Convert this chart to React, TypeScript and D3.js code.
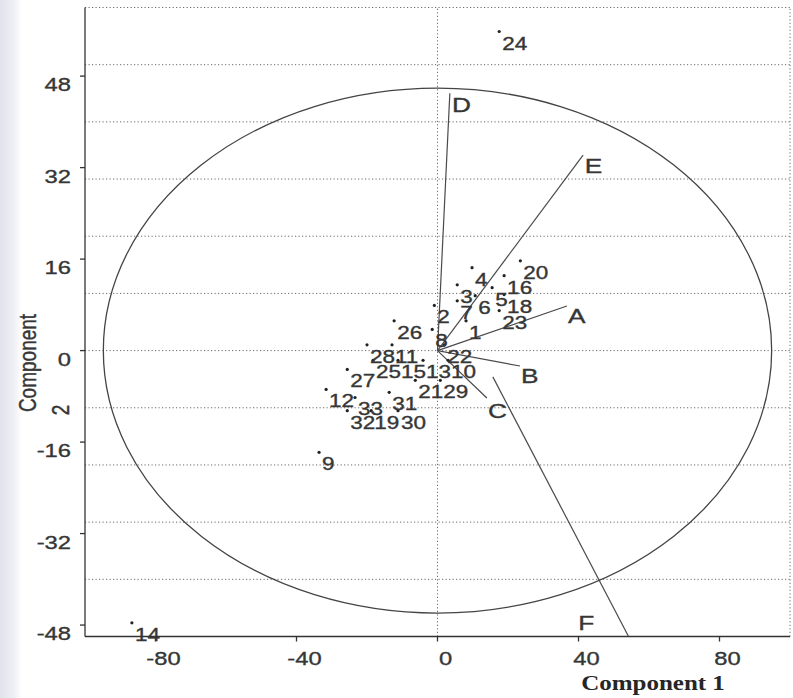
import React, { useEffect, useRef } from "react";
import * as d3 from "d3";

// scores of the observations (component 1, component 2)
const pointLabels = ["1", "2", "3", "4", "5", "6", "7", "8", "9", "10", "11", "12", "13", "14", "15", "16",
  "18", "19", "20", "21", "22", "23", "24", "25", "26", "27", "28", "29", "30", "31", "32", "33"];
const pointX = [8.1, -0.9, 5.6, 9.8, 15.5, 10.7, 5.6, -1.5, -33.6, 3.0, -12.9, -31.6, -4.1, -86.7, -11.2, 18.9,
  18.9, -18.8, 23.5, -6.3, 1.9, 17.5, 17.5, -18.3, -12.3, -25.6, -20.0, 0.8, -11.2, -13.7, -25.6, -23.4];
const pointY = [5.2, 7.9, 11.5, 14.5, 11.0, 9.6, 8.7, 3.7, -17.8, -1.7, 1.0, -6.8, -1.7, -47.6, -1.7, 13.1,
  9.8, -10.5, 15.7, -5.2, 1.0, 7.0, 55.8, -1.7, 5.2, -3.3, 1.0, -5.2, -10.5, -7.3, -10.5, -8.2];

// loadings (variables), drawn as segments
const vectorNames = ["A", "B", "C", "D", "E", "F"];
const vectorX0 = [0, 0, 0, 0, 0, 15.7];
const vectorY0 = [0, 0, 0, 0, 0, -4.6];
const vectorX1 = [36.7, 23.4, 14.0, 3.5, 41.3, 54.2];
const vectorY1 = [7.8, -2.7, -8.3, 45.0, 34.2, -50];
const vectorLabelX = [37.0, 23.7, 14.3, 4.1, 41.8, 39.9];
const vectorLabelY = [4.8, -5.7, -11.8, 41.7, 31.0, -48.9];

// axes
const xDomain = [-100, 100];
const yDomain = [-50, 60];
const xTicks = [-80, -40, 0, 40, 80];
const yTicks = [-48, -32, -16, 0, 16, 32, 48];
const yGrid = [-40, -30, -20, -10, 0, 10, 20, 30, 40, 50, 60];
const xGrid = [0, 100];
const circleRx = 94.8;
const circleRy = 45.9;

const ink = "#363636";
const stretch = 1.25; // the scan is wider than tall, so the glyphs are too

export default function App() {
  const ref = useRef<SVGSVGElement>(null);

  useEffect(() => {
    document.body.style.margin = "0";
    const svg = d3.select(ref.current);
    svg.selectAll("*").remove();

    const x = d3.scaleLinear().domain(xDomain).range([85, 790]);
    const y = d3.scaleLinear().domain(yDomain).range([636.5, 7.5]);

    // faint shadow on the left edge of the scan
    const grad = svg.append("defs").append("linearGradient").attr("id", "edge");
    grad.append("stop").attr("offset", "0%").attr("stop-color", "#e2e2ec");
    grad.append("stop").attr("offset", "60%").attr("stop-color", "#eeeef4");
    grad.append("stop").attr("offset", "100%").attr("stop-color", "#ffffff");
    svg.append("rect").attr("width", 793).attr("height", 698).attr("fill", "#fff");
    svg.append("rect").attr("width", 22).attr("height", 698).attr("fill", "url(#edge)");

    const text = (px: number, py: number, str: string, size: number, anchor = "start", rotate = 0) =>
      svg.append("text")
        .attr("transform", `translate(${px},${py}) scale(${stretch},1)` + (rotate ? ` rotate(${rotate})` : ""))
        .attr("text-anchor", anchor)
        .attr("font-family", "Liberation Sans, Arial, sans-serif")
        .attr("font-size", size)
        .attr("fill", ink)
        .attr("stroke", ink)
        .attr("stroke-width", 0.35)
        .text(str);

    // dotted grid
    const grid = svg.append("g")
      .attr("stroke", "#6a6a6a")
      .attr("stroke-width", 1)
      .attr("stroke-dasharray", "1.2,2.3");
    grid.selectAll("line.h").data(yGrid).join("line")
      .attr("class", "h")
      .attr("x1", x(xDomain[0])).attr("x2", x(xDomain[1]))
      .attr("y1", (d) => y(d)).attr("y2", (d) => y(d));
    grid.selectAll("line.v").data(xGrid).join("line")
      .attr("class", "v")
      .attr("x1", (d) => x(d)).attr("x2", (d) => x(d))
      .attr("y1", y(yDomain[0])).attr("y2", y(yDomain[1]));

    // axes lines + ticks
    const axis = svg.append("g").attr("stroke", "#333").attr("stroke-width", 1.3);
    axis.append("line")
      .attr("x1", x(xDomain[0])).attr("x2", x(xDomain[1]))
      .attr("y1", y(yDomain[0])).attr("y2", y(yDomain[0]));
    axis.append("line")
      .attr("x1", x(xDomain[0])).attr("x2", x(xDomain[0]))
      .attr("y1", y(yDomain[0])).attr("y2", y(yDomain[1]));
    axis.selectAll("line.xt").data(xTicks).join("line")
      .attr("class", "xt")
      .attr("x1", (d) => x(d)).attr("x2", (d) => x(d))
      .attr("y1", y(yDomain[0])).attr("y2", y(yDomain[0]) + 5);
    axis.selectAll("line.yt").data(yTicks).join("line")
      .attr("class", "yt")
      .attr("x1", x(xDomain[0]) - 5).attr("x2", x(xDomain[0]))
      .attr("y1", (d) => y(d)).attr("y2", (d) => y(d));

    xTicks.forEach((t) => text(x(t) + 8, 665, String(t), 19, "middle"));
    yTicks.forEach((t) => text(71, y(t) + 15, String(t), 19, "end"));

    // axis titles
    svg.append("text")
      .attr("transform", `translate(653,690) scale(${stretch},1)`)
      .attr("text-anchor", "middle")
      .attr("font-family", "Liberation Serif, Times New Roman, serif")
      .attr("font-weight", "bold")
      .attr("font-size", 20)
      .attr("fill", "#262626")
      .text("Component 1");
    text(36, 363, "Component", 19, "middle", -90);
    text(69, 410, "2", 19, "middle", -90);

    // correlation circle
    svg.append("ellipse")
      .attr("cx", x(0)).attr("cy", y(0))
      .attr("rx", x(circleRx) - x(0)).attr("ry", y(0) - y(circleRy))
      .attr("fill", "none").attr("stroke", "#444").attr("stroke-width", 1.3);

    // loadings
    svg.append("g").selectAll("line").data(vectorNames).join("line")
      .attr("x1", (_, i) => x(vectorX0[i])).attr("y1", (_, i) => y(vectorY0[i]))
      .attr("x2", (_, i) => x(vectorX1[i])).attr("y2", (_, i) => y(vectorY1[i]))
      .attr("stroke", "#4a4a4a").attr("stroke-width", 1.2);
    vectorNames.forEach((n, i) => text(x(vectorLabelX[i]), y(vectorLabelY[i]), n, 21));

    // observations
    svg.append("g").selectAll("circle").data(pointLabels).join("circle")
      .attr("cx", (_, i) => x(pointX[i])).attr("cy", (_, i) => y(pointY[i]))
      .attr("r", 1.6).attr("fill", "#222");
    pointLabels.forEach((p, i) => text(x(pointX[i]) + 3, y(pointY[i]) + 18, p, 18));
  }, []);

  return <svg ref={ref} width={793} height={698} style={{ display: "block" }} />;
}
